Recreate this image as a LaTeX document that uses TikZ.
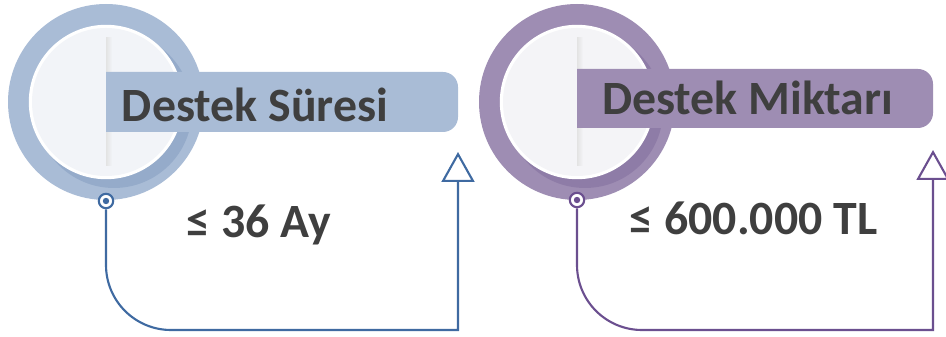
\documentclass[tikz,border=0pt]{standalone}
\usepackage{fontspec}
\setmainfont{Carlito}
\usepackage[dvipsnames]{xcolor}
\usepackage{tikz}
\usepackage{tkz-euclide}
\usetikzlibrary{arrows.meta}

\definecolor{ringA}{HTML}{A9BCD6}
\definecolor{ringAdark}{HTML}{90A7C7}
\definecolor{lineA}{HTML}{3F6AA1}
\definecolor{innerA}{HTML}{F2F4F8}
\definecolor{ringB}{HTML}{9E8DB3}
\definecolor{ringBdark}{HTML}{8B78A4}
\definecolor{lineB}{HTML}{6B4F8F}
\definecolor{innerB}{HTML}{F4F4F7}
\definecolor{textgray}{HTML}{3F3F3F}

\tikzset{
  title/.style={font=\fontsize{34}{36}\selectfont\bfseries, text=textgray, inner sep=0pt},
  dotA/.style={circle, draw=lineA, fill=white, line width=1.5pt, minimum size=0.36cm, inner sep=0pt},
  dotB/.style={circle, draw=lineB, fill=white, line width=1.5pt, minimum size=0.36cm, inner sep=0pt},
  linkA/.style={draw=lineA, line width=1.5pt, -{Triangle[open, width=0.825cm, length=0.75cm]}},
  linkB/.style={draw=lineB, line width=1.5pt, -{Triangle[open, width=0.825cm, length=0.75cm]}}
}

\begin{document}
\begin{tikzpicture}
    \useasboundingbox (0,0) rectangle (23.65,8.4);
    \tkzDefPoints{2.65/5.85/O,2.65/3.375/P,2.65/1.775/K,11.45/0.15/R,11.45/4.6/T}
    \tkzDefPoints{14.425/5.85/O',14.425/3.4/P',14.425/1.775/K',23.325/0.15/R',23.325/4.65/T'}
    % first badge
    \fill[ringA] (O) circle (2.45);
    \begin{scope}
      \clip (O) circle (2.45);
      \fill[ringAdark, opacity=0.8] ([shift={(0.2,-0.2)}]O) circle (1.95);
    \end{scope}
    \fill[white] (O) circle (1.93);
    \fill[innerA] (O) circle (1.85);
    \begin{scope}
      \clip (O) circle (1.85);
      \shade[left color=gray!22, right color=innerA] ([yshift=-1.6cm]O) rectangle ++(0.15,3.2);
    \end{scope}
    \fill[ringA] (2.65,6.6) -- (11.075,6.6) arc[start angle=90, end angle=0, radius=0.375]
      -- (11.45,5.475) arc[start angle=0, end angle=-90, radius=0.375] -- (2.65,5.1) -- cycle;
    \node[title, anchor=base] (S) at (6.375,5.35) {Destek Süresi};
    \node[title, anchor=base] (V) at (6.475,2.45) {≤ 36 Ay};
    \node[dotA] (D) at (P) {};
    \fill[lineA] (D) circle (0.08);
    \draw[linkA] (D.south) -- (K) arc[start angle=180, end angle=270, radius=1.625] -- (R) -- (T);
    % second badge
    \fill[ringB] (O') circle (2.45);
    \begin{scope}
      \clip (O') circle (2.45);
      \fill[ringBdark, opacity=0.8] ([shift={(0.2,-0.2)}]O') circle (1.95);
    \end{scope}
    \fill[white] (O') circle (1.93);
    \fill[innerB] (O') circle (1.85);
    \begin{scope}
      \clip (O') circle (1.85);
      \shade[left color=gray!22, right color=innerB] ([yshift=-1.6cm]O') rectangle ++(0.15,3.2);
    \end{scope}
    \fill[ringB] (14.425,6.675) -- (22.95,6.675) arc[start angle=90, end angle=0, radius=0.375]
      -- (23.325,5.575) arc[start angle=0, end angle=-90, radius=0.375] -- (14.425,5.2) -- cycle;
    \node[title, anchor=base] (S') at (18.69,5.525) {Destek Miktarı};
    \node[title, anchor=base] (V') at (18.84,2.525) {≤ 600.000 TL};
    \node[dotB] (D') at (P') {};
    \fill[lineB] (D') circle (0.08);
    \draw[linkB] (D'.south) -- (K') arc[start angle=180, end angle=270, radius=1.625] -- (R') -- (T');
  \end{tikzpicture}
\end{document}
